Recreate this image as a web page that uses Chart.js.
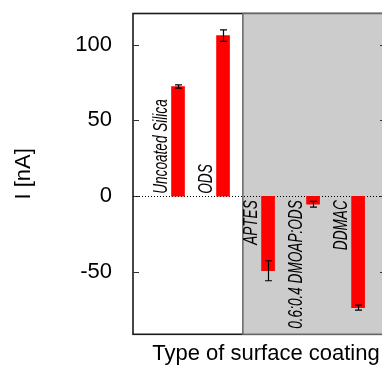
<!DOCTYPE html>
<html>
<head>
<meta charset="utf-8">
<script src="https://cdn.jsdelivr.net/npm/chart.js@4/dist/chart.umd.min.js"></script>
<style>
  html, body { margin: 0; padding: 0; overflow: hidden; background: #fff; width: 382px; height: 370px; }
  canvas { display: block; }
</style>
</head>
<body>
<canvas id="c" width="392" height="370"></canvas>
<script>
// Measured current for each surface coating
const categories = ['Uncoated Silica', 'ODS', 'APTES', '0.6:0.4 DMOAP:ODS', 'DDMAC'];
const positions = [1, 2, 3, 4, 5];
const currents = [72.4, 105.9, -49.1, -5.2, -73.4];
const currentErrors = [1.1, 3.8, 6.6, 1.9, 1.6];
const yTicks = [-50, 0, 50, 100];
const yTitle = 'I [nA]';
const xTitle = 'Type of surface coating';

const FONT = '"Liberation Sans", Arial, sans-serif';
const SHADE_FROM = 2.44; // start of the shaded (positively charged) group

const decorations = {
  id: 'decorations',
  beforeDatasetsDraw(chart) {
    const { ctx, chartArea: a, scales: { x, y } } = chart;
    ctx.save();
    // plot frame
    ctx.strokeStyle = '#1a1a1a';
    ctx.lineWidth = 1.6;
    ctx.strokeRect(a.left, a.top, a.right - a.left, a.bottom - a.top);
    // shaded group
    const xs = x.getPixelForValue(SHADE_FROM);
    ctx.fillStyle = '#cccccc';
    ctx.fillRect(xs, a.top, a.right - xs, a.bottom - a.top);
    ctx.strokeStyle = '#666666';
    ctx.lineWidth = 1.5;
    ctx.strokeRect(xs, a.top, a.right - xs, a.bottom - a.top);
    // inward tick marks on both sides
    ctx.strokeStyle = '#333333';
    ctx.lineWidth = 1.2;
    yTicks.forEach(v => {
      const py = Math.round(y.getPixelForValue(v)) + 0.5;
      ctx.beginPath();
      ctx.moveTo(a.left, py); ctx.lineTo(a.left + 6, py);
      ctx.moveTo(a.right, py); ctx.lineTo(a.right - 6, py);
      ctx.stroke();
    });
    // dotted zero line
    const y0 = Math.round(y.getPixelForValue(0)) + 0.5;
    ctx.strokeStyle = '#000';
    ctx.lineWidth = 1;
    ctx.setLineDash([1, 2]);
    ctx.beginPath();
    ctx.moveTo(a.left, y0); ctx.lineTo(a.right, y0);
    ctx.stroke();
    ctx.restore();
  },
  afterDatasetsDraw(chart) {
    const { ctx, scales: { x, y } } = chart;
    const y0 = y.getPixelForValue(0);
    ctx.save();
    // error bars
    ctx.strokeStyle = '#000';
    ctx.lineWidth = 1.2;
    positions.forEach((p, i) => {
      const px = Math.round(x.getPixelForValue(p)) + 0.5;
      const hi = y.getPixelForValue(currents[i] + currentErrors[i]);
      const lo = y.getPixelForValue(currents[i] - currentErrors[i]);
      ctx.beginPath();
      ctx.moveTo(px, hi); ctx.lineTo(px, lo);
      ctx.moveTo(px - 3.5, hi); ctx.lineTo(px + 3.5, hi);
      ctx.moveTo(px - 3.5, lo); ctx.lineTo(px + 3.5, lo);
      ctx.stroke();
    });
    // coating names beside each bar
    ctx.fillStyle = '#000';
    ctx.font = 'italic 20px ' + FONT;
    ctx.textBaseline = 'alphabetic';
    positions.forEach((p, i) => {
      const px = x.getPixelForValue(p) - 11;
      const up = currents[i] >= 0;
      ctx.save();
      ctx.translate(px, up ? y0 - 2.5 : y0 + 4);
      ctx.rotate(-Math.PI / 2);
      ctx.scale(0.68, 1);
      ctx.textAlign = up ? 'left' : 'right';
      ctx.fillText(categories[i], 0, 0);
      ctx.restore();
    });
    // x axis title
    ctx.font = '22px ' + FONT;
    ctx.textAlign = 'center';
    ctx.fillText(xTitle, 266, 359.5);
    ctx.restore();
  }
};

new Chart(document.getElementById('c'), {
  type: 'bar',
  data: {
    datasets: [{
      data: positions.map((p, i) => ({ x: p, y: currents[i] })),
      backgroundColor: '#ff0000',
      borderWidth: 0,
      barThickness: 13
    }]
  },
  options: {
    responsive: false,
    animation: false,
    devicePixelRatio: 1,
    layout: { padding: { left: 0, top: 13.5, right: 6, bottom: 35.7 } },
    plugins: { legend: { display: false }, tooltip: { enabled: false } },
    scales: {
      x: { type: 'linear', min: 0, max: 5.62, offset: false, display: false },
      y: {
        type: 'linear',
        min: -91,
        max: 120.5,
        afterBuildTicks: s => { s.ticks = yTicks.map(v => ({ value: v })); },
        afterFit: s => { s.width = 133; s.paddingTop = 0; s.paddingBottom = 0; },
        grid: { display: false, drawTicks: false },
        border: { display: false },
        ticks: { color: '#000', padding: 21, font: { family: FONT, size: 22 } },
        title: {
          display: true,
          text: yTitle,
          color: '#000',
          font: { family: FONT, size: 22 },
          padding: { top: 11, bottom: 0 }
        }
      }
    }
  },
  plugins: [decorations]
});
</script>
</body>
</html>
